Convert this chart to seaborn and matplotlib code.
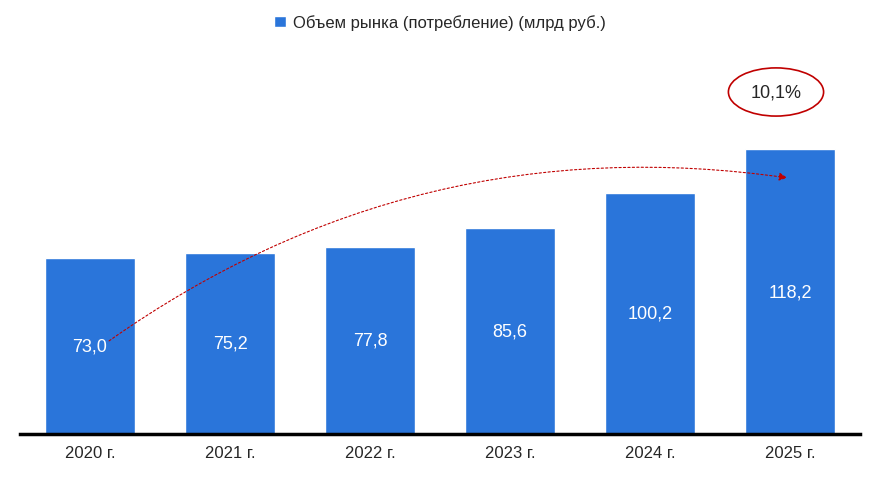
import matplotlib.pyplot as plt
import seaborn as sns
import pandas as pd
from matplotlib.patches import Ellipse

years = ['2020 г.', '2021 г.', '2022 г.', '2023 г.', '2024 г.', '2025 г.']
values = [73.0, 75.2, 77.8, 85.6, 100.2, 118.2]
legend_label = 'Объем рынка (потребление) (млрд руб.)'
growth_label = '10,1%'

sns.set_style('white')
plt.rcParams['font.family'] = ['Liberation Sans Narrow', 'Liberation Sans', 'DejaVu Sans']

df = pd.DataFrame({'year': years, 'value': values})

fig = plt.figure(figsize=(8.75, 4.89), dpi=100)
ax = fig.add_axes([20 / 875, 54 / 489, 840 / 875, 395 / 489])
sns.barplot(data=df, x='year', y='value', color='#2a75da', saturation=1,
            width=0.64, ax=ax, label=legend_label)
ax.set_ylim(0, 164)
ax.set_xlim(-0.5, 5.5)
ax.set_xlabel('')
ax.set_ylabel('')
ax.set_yticks([])
for s in ['top', 'right', 'left']:
    ax.spines[s].set_visible(False)
ax.spines['bottom'].set_linewidth(2.5)
ax.spines['bottom'].set_color('black')
ax.tick_params(axis='x', labelsize=12, length=0, pad=8)

for i, v in enumerate(values):
    ax.text(i, v / 2, f'{v:.1f}'.replace('.', ','), ha='center', va='center',
            color='white', fontsize=13)

# growth arrow
ax.annotate('', xy=(5.0, values[-1] - 12), xytext=(0.12, values[0] - 35),
            arrowprops=dict(arrowstyle='-|>', color='#c00000', lw=0.8, ls=(0, (2, 2)),
                            connectionstyle='arc3,rad=-0.2', mutation_scale=12))

ax.add_patch(Ellipse((4.9, 142), 0.68, 20, facecolor='white', edgecolor='#c00000',
                     lw=1.2, clip_on=False))
ax.text(4.9, 142, growth_label, ha='center', va='center', fontsize=13)

ax.legend(loc='upper center', bbox_to_anchor=(0.5, 1.1), frameon=False,
          fontsize=12, handlelength=0.7, handleheight=0.7, handletextpad=0.4)

fig.savefig('out.png', dpi=100)
